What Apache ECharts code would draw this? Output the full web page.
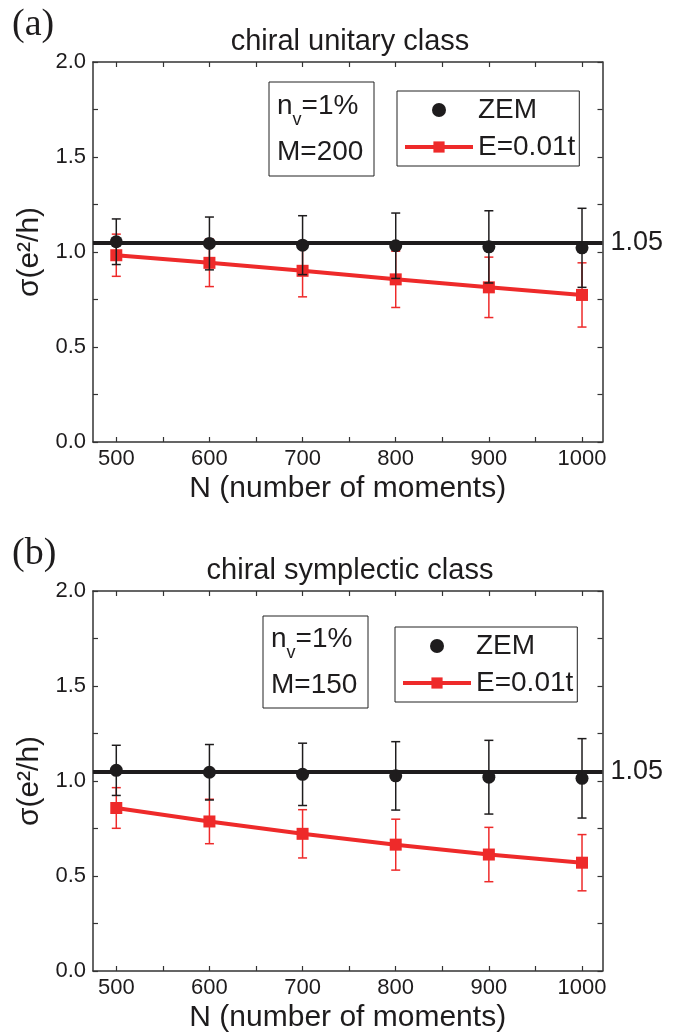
<!DOCTYPE html>
<html>
<head>
<meta charset="utf-8">
<script src="https://cdn.jsdelivr.net/npm/echarts@6/dist/echarts.min.js"></script>
<style>
html,body{margin:0;padding:0;background:#fff;}
#chart{width:679px;height:1034px;}
</style>
</head>
<body>
<div id="chart"></div>
<script>
// ---- data ----
const nMoments = [500, 600, 700, 800, 900, 1000];
const xLabelValues = [500, 600, 700, 800, 900, 1000];
const xTickValues = [500, 550, 600, 650, 700, 750, 800, 850, 900, 950, 1000];
const yLabelValues = [0, 0.5, 1.0, 1.5, 2.0];
const yTickValues = [0, 0.25, 0.5, 0.75, 1.0, 1.25, 1.5, 1.75, 2.0];
const refLevel = 1.05;

// panel (a) chiral unitary class
const zemA = [1.054, 1.045, 1.036, 1.033, 1.027, 1.022];
const zemErrA = [0.120, 0.139, 0.155, 0.172, 0.190, 0.208];
const eA = [0.983, 0.943, 0.901, 0.856, 0.814, 0.774];
const eErrA = [0.111, 0.125, 0.137, 0.148, 0.159, 0.169];

// panel (b) chiral symplectic class
const zemB = [1.056, 1.046, 1.035, 1.027, 1.020, 1.014];
const zemErrB = [0.132, 0.146, 0.164, 0.180, 0.194, 0.209];
const eB = [0.858, 0.787, 0.722, 0.665, 0.613, 0.570];
const eErrB = [0.107, 0.117, 0.127, 0.134, 0.143, 0.148];

const FONT = '"Liberation Sans", Arial, sans-serif';
const BLACK = '#1e1c1d';
const RED = '#ee2a2a';
const AXIS = '#333333';

function pairs(ys) { return nMoments.map((x, i) => [x, ys[i]]); }
function errData(ys, es) { return nMoments.map((x, i) => [x, ys[i] - es[i], ys[i] + es[i]]); }

function errRender(color, capW, lw) {
  return function (params, api) {
    const x = api.value(0);
    const lo = api.coord([x, api.value(1)]);
    const hi = api.coord([x, api.value(2)]);
    const h = capW / 2;
    const st = { stroke: color, lineWidth: lw };
    return {
      type: 'group',
      children: [
        { type: 'line', shape: { x1: lo[0], y1: lo[1], x2: hi[0], y2: hi[1] }, style: st },
        { type: 'line', shape: { x1: lo[0] - h, y1: lo[1], x2: lo[0] + h, y2: lo[1] }, style: st },
        { type: 'line', shape: { x1: hi[0] - h, y1: hi[1], x2: hi[0] + h, y2: hi[1] }, style: st }
      ]
    };
  };
}

function xAxisDef(grid, showLabel) {
  return {
    type: 'value', gridIndex: grid, min: 475, max: 1022,
    position: showLabel ? 'bottom' : 'top',
    splitLine: { show: false },
    axisLine: { show: true, onZero: false, lineStyle: { color: AXIS, width: 1.5 } },
    axisTick: { show: true, inside: true, length: 5, customValues: xTickValues, lineStyle: { color: AXIS, width: 1.2 } },
    axisLabel: { show: showLabel, customValues: xLabelValues, margin: 6, fontSize: 22, fontFamily: FONT, color: BLACK,
      formatter: v => String(Math.round(v)) },
    name: showLabel ? 'N (number of moments)' : '',
    nameLocation: 'middle', nameGap: 32,
    nameTextStyle: { fontSize: 30, fontFamily: FONT, color: BLACK }
  };
}
function yAxisDef(grid, showLabel) {
  return {
    type: 'value', gridIndex: grid, min: 0, max: 2,
    position: showLabel ? 'left' : 'right',
    splitLine: { show: false },
    axisLine: { show: true, onZero: false, lineStyle: { color: AXIS, width: 1.5 } },
    axisTick: { show: true, inside: true, length: 5, customValues: yTickValues, lineStyle: { color: AXIS, width: 1.2 } },
    axisLabel: { show: showLabel, customValues: yLabelValues, margin: 7, fontSize: 22, fontFamily: FONT, color: BLACK,
      formatter: v => v.toFixed(1) },
    name: showLabel ? 'σ(e²/h)' : '',
    nameLocation: 'middle', nameGap: 43, nameRotate: 90,
    nameTextStyle: { fontSize: 30, fontFamily: FONT, color: BLACK }
  };
}

function panelSeries(xi, yi, zem, zemErr, e, eErr) {
  return [
    { type: 'custom', name: 'errE', xAxisIndex: xi, yAxisIndex: yi, z: 2,
      renderItem: errRender(RED, 9, 1.5), encode: { x: 0, y: [1, 2] }, data: errData(e, eErr), silent: true },
    { type: 'line', name: 'E=0.01t', xAxisIndex: xi, yAxisIndex: yi, z: 3,
      data: pairs(e), symbol: 'rect', symbolSize: 12,
      lineStyle: { color: RED, width: 4 }, itemStyle: { color: RED, opacity: 1 } },
    { type: 'scatter', name: 'ZEM', xAxisIndex: xi, yAxisIndex: yi, z: 4,
      data: pairs(zem), symbol: 'circle', symbolSize: 13, itemStyle: { color: BLACK, opacity: 1 },
      markLine: {
        silent: true, symbol: 'none', animation: false,
        lineStyle: { color: BLACK, width: 4, type: 'solid', opacity: 1 },
        label: { show: true, position: 'end', formatter: '1.05', distance: 8, fontSize: 27, fontFamily: FONT, color: BLACK },
        data: [{ yAxis: refLevel }]
      } },
    { type: 'custom', name: 'errZ', xAxisIndex: xi, yAxisIndex: yi, z: 5,
      renderItem: errRender(BLACK, 9, 1.5), encode: { x: 0, y: [1, 2] }, data: errData(zem, zemErr), silent: true }
  ];
}

function legendDef(left, top) {
  return {
    left: left, top: top, orient: 'vertical', data: ['ZEM', 'E=0.01t'],
    itemWidth: 68, itemHeight: 14, itemGap: 9, itemTextGap: 8,
    padding: [5, 4, 5, 6], borderColor: '#222', borderWidth: 1,
    selectedMode: false,
    lineStyle: { width: 4 },
    textStyle: { fontSize: 28, fontFamily: FONT, color: BLACK }
  };
}

function infoBox(x, y, w, h, mText) {
  return [
    { type: 'rect', shape: { x: x, y: y, width: w, height: h }, style: { fill: 'none', stroke: '#222', lineWidth: 1 }, z: 10 },
    { type: 'text', x: x + 8, y: y + h / 2, z: 10,
      style: {
        text: '{n|n}{s|v}{n|=1%}\n{n|' + mText + '}',
        verticalAlign: 'middle', align: 'left',
        rich: {
          n: { fontSize: 28, lineHeight: 46, fontFamily: FONT, fill: BLACK },
          s: { fontSize: 18, lineHeight: 46, fontFamily: FONT, fill: BLACK, padding: [28, 0, 0, 0] }
        }
      } }
  ];
}

const chart = echarts.init(document.getElementById('chart'), null, { renderer: 'canvas' });
chart.setOption({
  animation: false,
  backgroundColor: '#ffffff',
  grid: [
    { left: 93, width: 509.5, top: 62, height: 380 },
    { left: 93, width: 509.5, top: 591, height: 381 }
  ],
  xAxis: [xAxisDef(0, true), xAxisDef(0, false), xAxisDef(1, true), xAxisDef(1, false)],
  yAxis: [yAxisDef(0, true), yAxisDef(0, false), yAxisDef(1, true), yAxisDef(1, false)],
  legend: [legendDef(397, 91), legendDef(395, 627)],
  series: [].concat(
    panelSeries(0, 0, zemA, zemErrA, eA, eErrA),
    panelSeries(2, 2, zemB, zemErrB, eB, eErrB)
  ),
  graphic: [].concat(
    [
      { type: 'text', x: 12, y: 6, style: { text: '(a)', font: '38px "Liberation Serif", "Times New Roman", serif', fill: BLACK } },
      { type: 'text', x: 12, y: 535, style: { text: '(b)', font: '38px "Liberation Serif", "Times New Roman", serif', fill: BLACK } },
      { type: 'text', x: 350, y: 42, style: { text: 'chiral unitary class', align: 'center', verticalAlign: 'middle', font: '29px "Liberation Sans", Arial, sans-serif', fill: BLACK } },
      { type: 'text', x: 350, y: 571, style: { text: 'chiral symplectic class', align: 'center', verticalAlign: 'middle', font: '29px "Liberation Sans", Arial, sans-serif', fill: BLACK } }
    ],
    infoBox(269, 82, 105, 94, 'M=200'),
    infoBox(263, 616, 105, 92, 'M=150')
  )
});
</script>
</body>
</html>
